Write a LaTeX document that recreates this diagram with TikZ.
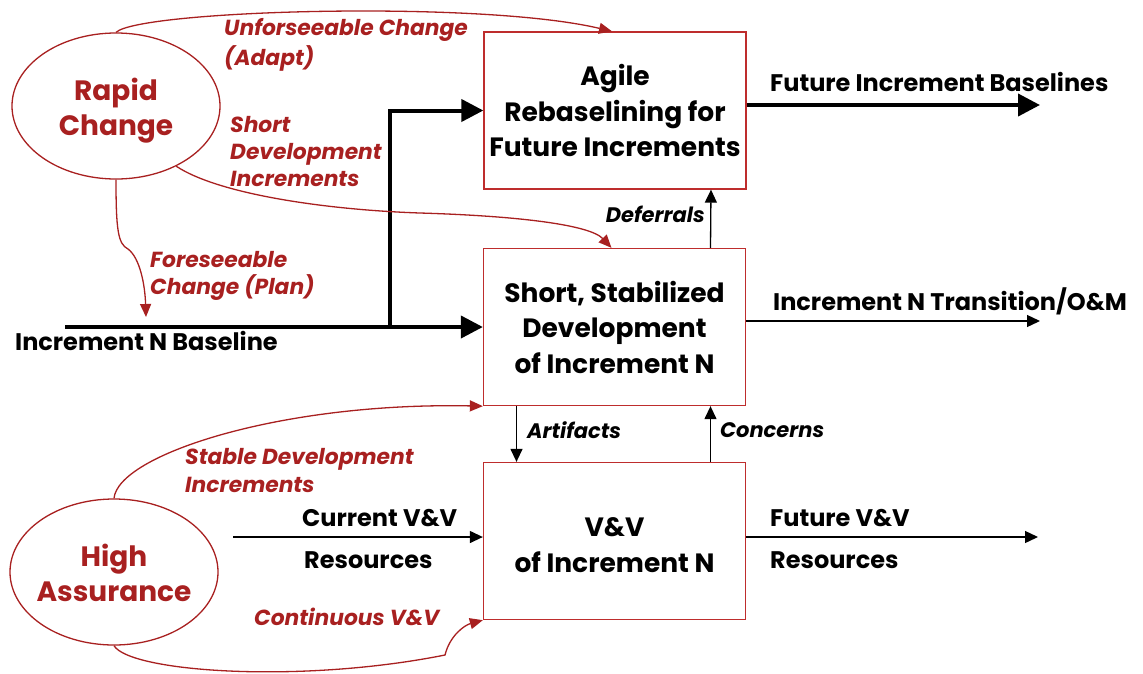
\documentclass[tikz,border=0pt]{standalone}
\usepackage{fontspec}
\setmainfont{Poppins}
\usetikzlibrary{arrows.meta,shapes.geometric}
\definecolor{dred}{RGB}{168,32,32}
\definecolor{bred}{RGB}{190,45,45}
\begin{document}
\begin{tikzpicture}[x=1pt,y=-1pt,
  boxtext/.style={align=center,inner sep=0pt,font={\fontsize{26.5}{35.5}\selectfont\bfseries}},
  procbox/.style={draw=bred,line width=1.3pt,minimum width=262pt,minimum height=157pt,inner sep=0pt,boxtext},
  driver/.style={ellipse,draw=dred,line width=1.3pt,minimum width=208pt,minimum height=146pt,inner sep=0pt},
  drvtext/.style={align=center,inner sep=0pt,text=dred,font={\fontsize{28}{35}\selectfont\bfseries}},
  redlab/.style={text=dred,align=left,inner sep=0pt,font={\fontsize{21.8}{27}\selectfont\bfseries\itshape}},
  blacklab/.style={align=left,inner sep=0pt,font={\fontsize{24}{30}\selectfont\bfseries}},
  flowlab/.style={inner sep=0pt,font={\fontsize{21}{27}\selectfont\bfseries\itshape}},
  thickarrow/.style={line width=4pt,-{Triangle[length=22pt,width=22pt]}},
  thinarrow/.style={line width=1.3pt,-{Triangle[length=13pt,width=12pt]}},
  redarrow/.style={draw=dred,line width=1.3pt,-{Triangle[length=13pt,width=11pt]},dred}
]
\useasboundingbox (0,0) rectangle (1143,673);
% boxes
\node[procbox] (agile) at (615,110.5) {Agile\\Rebaselining for\\Future Increments};
\node[procbox] (dev) at (614.5,327) {Short, Stabilized\\Development\\of Increment N};
\node[procbox] (vv) at (614.5,541) {};
\node[boxtext] (vvt) at ([yshift=-4pt]vv.center) {V\&V\\of Increment N};
% drivers
\node[driver] (rc) at (116,106) {};
\node[drvtext] (rct) at ([yshift=-5pt]rc.center) {Rapid\\Change};
\node[driver] (ha) at (114,572) {};
\node[drvtext] (hat) at ([yshift=-1pt]ha.center) {High\\Assurance};
% coordinates
\coordinate (bl) at (65,327);
\coordinate (jn) at (390,327);
\coordinate (fib) at (1040,105);
\coordinate (tr) at (1040,321);
\coordinate (cv) at (233,537);
\coordinate (fv) at (1038,537);
\coordinate (fc) at (146,317);
% black connectors
\draw[thickarrow] (bl) -- (dev.west);
\draw[thickarrow] (jn) |- (agile.west);
\draw[thickarrow] (agile.east|-fib) -- (fib);
\draw[thinarrow] (dev.east|-tr) -- (tr);
\draw[thinarrow] ([xshift=96pt]dev.north) -- ([xshift=96pt]agile.south);
\draw[thinarrow] ([xshift=-98pt]dev.south) -- ([xshift=-98pt]vv.north);
\draw[thinarrow] ([xshift=96pt]vv.north) -- ([xshift=96pt]dev.south);
\draw[thinarrow] (cv) -- (vv.west|-cv);
\draw[thinarrow] (vv.east|-fv) -- (fv);
% red connectors
\draw[redarrow] (rc.north) .. controls (140,10) and (480,0) .. ([xshift=-3pt]agile.north);
\draw[redarrow] (rc.-45) .. controls (220,195) and (330,210) .. (420,213) .. controls (520,216) and (590,225) .. ([xshift=-3pt]dev.north);
\draw[redarrow] (rc.south) .. controls (116,230) and (118,244) .. (128,249) .. controls (140,258) and (145,285) .. (fc);
\draw[redarrow] (ha.north) .. controls (118,455) and (280,402) .. (vv.west|-dev.south);
\draw[redarrow] (ha.south) .. controls (130,672) and (300,684) .. (445,655) .. controls (450,635) and (465,625) .. (vv.south west);
% labels
\node[redlab,anchor=west,font={\fontsize{21.8}{30}\selectfont\bfseries\itshape}] (l1) at (224,45) {Unforseeable Change\\(Adapt)};
\node[redlab,anchor=west] (l2) at (230,152) {Short\\Development\\Increments};
\node[redlab,anchor=west] (l3) at (150,275.5) {Foreseeable\\Change (Plan)};
\node[redlab,anchor=west,font={\fontsize{21.8}{28}\selectfont\bfseries\itshape}] (l4) at (185,471) {Stable Development\\Increments};
\node[redlab,anchor=west] (l5) at (254,617) {Continuous V\&V};
\node[blacklab,anchor=west] (b1) at (15,341) {Increment N Baseline};
\node[blacklab,anchor=west] (b2) at (770,82) {Future Increment Baselines};
\node[blacklab,anchor=west] (b3) at (773,301) {Increment N Transition/O\&M};
\node[blacklab,anchor=west] (b4) at (302,518) {Current V\&V};
\node[blacklab,anchor=west] (b5) at (304,560) {Resources};
\node[blacklab,anchor=west] (b6) at (770,518) {Future V\&V};
\node[blacklab,anchor=west] (b7) at (770,560) {Resources};
\node[flowlab,anchor=east] (f1) at (705,214) {Deferrals};
\node[flowlab,anchor=west] (f2) at (527,430) {Artifacts};
\node[flowlab,anchor=west] (f3) at (720,430) {Concerns};
\end{tikzpicture}
\end{document}
